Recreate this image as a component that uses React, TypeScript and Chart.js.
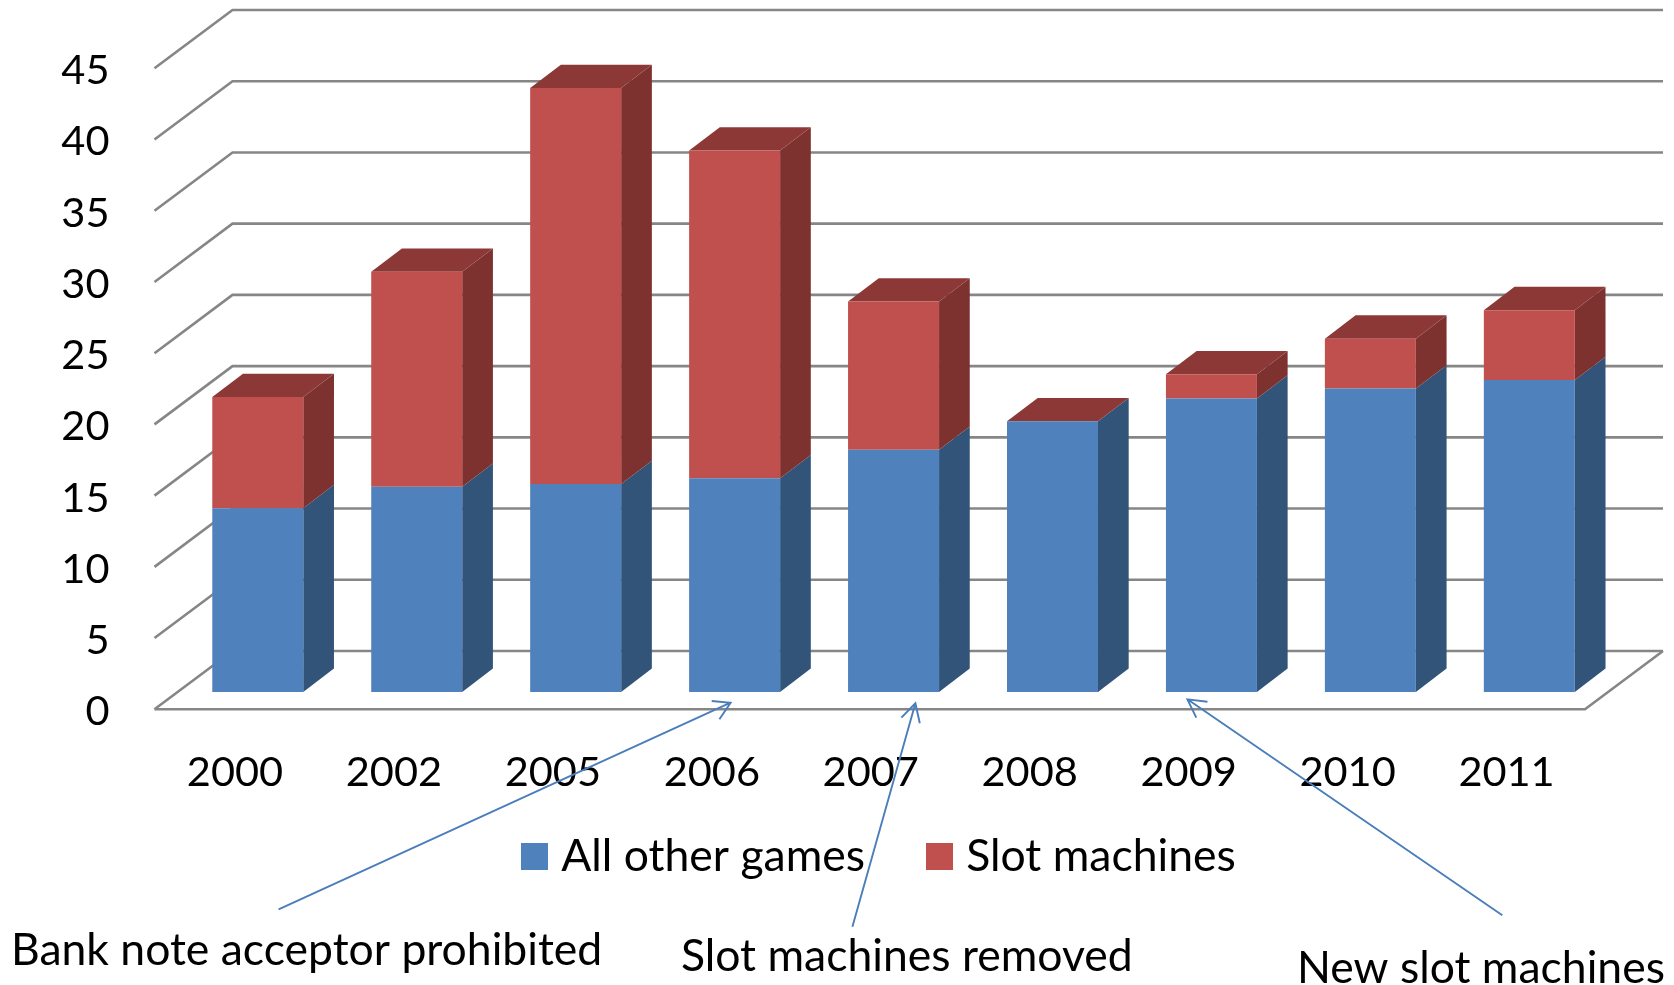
import React, { useEffect, useRef } from "react";
import { Chart, registerables } from "chart.js";

Chart.register(...registerables);

const years = ["2000", "2002", "2005", "2006", "2007", "2008", "2009", "2010", "2011"];
const otherGames = [12.9, 14.4, 14.6, 15.0, 17.0, 19.0, 20.6, 21.3, 21.9];
const slotMachines = [7.8, 15.1, 27.8, 23.0, 10.4, 0, 1.7, 3.5, 4.9];
const seriesNames = ["All other games", "Slot machines"];
const noteTexts = ["Bank note acceptor prohibited", "Slot machines removed", "New slot machines"];

const FONT = "Lato";
const TICK_SIZE = 41.5;
const TEXT_SIZE = 44.5;
const FRONT_FILL = ["#4F81BD", "#C0504D"];
const SIDE_FILL = ["#335479", "#7D3230"];
const TOP_FILL = "#8C3836";
const GRID = "#868686";
const ARROW = "#4A7EBB";

const plotLeft = 154.5;
const plotRight = 1585;
const plotTop = 68.3;
const plotBottom = 709.3;
const wallDx = 78;
const wallDy = 58.3;
const barShiftX = 23.8;
const barShiftY = 17.4;
const barDepthX = 30.7;
const barDepthY = 23.3;

const notes = [
  { x: 11, y: 965 },
  { x: 681, y: 970.8 },
  { x: 1297, y: 982.7 },
];
const arrows = [
  { from: [278.6, 909.3], tip: [730.6, 702.7], a: [711.7, 701], b: [719.4, 719.3] },
  { from: [852.4, 926.7], tip: [915.4, 703.3], a: [901.4, 717.7], b: [919.8, 723.3] },
  { from: [1502.3, 915.3], tip: [1187.4, 699.3], a: [1207.5, 701.7], b: [1196.3, 717.7] },
];

const poly = (ctx: CanvasRenderingContext2D, pts: number[][], fill: string) => {
  ctx.beginPath();
  pts.forEach((p, i) => (i ? ctx.lineTo(p[0], p[1]) : ctx.moveTo(p[0], p[1])));
  ctx.closePath();
  ctx.fillStyle = fill;
  ctx.fill();
};

const perspective = {
  id: "perspective",
  afterLayout(chart: any) {
    const lg = chart.legend;
    if (!lg) return;
    const p = lg.options.labels.padding;
    const w = lg.width;
    lg.left = 530 - p;
    lg.right = lg.left + w;
    lg.top = 834.25 - p;
    lg.bottom = lg.top + lg.height;
  },
  beforeDatasetsDraw(chart: any) {
    const { ctx, scales } = chart;
    const backLeft = plotLeft + wallDx;
    const backRight = plotRight + wallDx;
    ctx.save();
    ctx.strokeStyle = GRID;
    ctx.lineWidth = 2.6;
    scales.y.ticks.forEach((t: any) => {
      const y = scales.y.getPixelForValue(t.value);
      ctx.beginPath();
      ctx.moveTo(plotLeft, y);
      ctx.lineTo(backLeft, y - wallDy);
      ctx.lineTo(backRight, y - wallDy);
      ctx.stroke();
    });
    ctx.beginPath();
    ctx.moveTo(plotLeft, plotBottom);
    ctx.lineTo(plotRight, plotBottom);
    ctx.lineTo(backRight, plotBottom - wallDy);
    ctx.stroke();
    ctx.restore();

    ctx.save();
    ctx.translate(barShiftX, -barShiftY);
    chart.data.datasets.forEach((_: any, d: number) => {
      chart.getDatasetMeta(d).data.forEach((bar: any) => {
        const r = bar.x + bar.width / 2;
        const l = bar.x - bar.width / 2;
        poly(ctx, [[r, bar.y], [r + barDepthX, bar.y - barDepthY], [r + barDepthX, bar.base - barDepthY], [r, bar.base]], SIDE_FILL[d]);
        if (d === chart.data.datasets.length - 1) {
          poly(ctx, [[l, bar.y], [l + barDepthX, bar.y - barDepthY], [r + barDepthX, bar.y - barDepthY], [r, bar.y]], TOP_FILL);
        }
      });
    });
  },
  afterDatasetsDraw(chart: any) {
    chart.ctx.restore();
  },
  afterDraw(chart: any) {
    const { ctx } = chart;
    ctx.save();
    ctx.fillStyle = "#000";
    ctx.font = `${TEXT_SIZE}px ${FONT}`;
    ctx.textAlign = "left";
    ctx.textBaseline = "alphabetic";
    noteTexts.forEach((t, i) => ctx.fillText(t, notes[i].x, notes[i].y));
    ctx.strokeStyle = ARROW;
    ctx.lineWidth = 1.9;
    arrows.forEach((a) => {
      ctx.beginPath();
      ctx.moveTo(a.from[0], a.from[1]);
      ctx.lineTo(a.tip[0], a.tip[1]);
      ctx.moveTo(a.a[0], a.a[1]);
      ctx.lineTo(a.tip[0], a.tip[1]);
      ctx.lineTo(a.b[0], a.b[1]);
      ctx.stroke();
    });
    ctx.restore();
  },
};

export default function App() {
  const ref = useRef<HTMLCanvasElement>(null);
  useEffect(() => {
    const chart = new Chart(ref.current!, {
      type: "bar",
      plugins: [perspective],
      data: {
        labels: years,
        datasets: [
          { label: seriesNames[0], data: otherGames, backgroundColor: FRONT_FILL[0], clip: false },
          { label: seriesNames[1], data: slotMachines, backgroundColor: FRONT_FILL[1], clip: false },
        ],
      },
      options: {
        responsive: false,
        animation: false,
        events: [],
        layout: { padding: { top: plotTop, right: 1674 - plotRight, left: 0, bottom: 0 } },
        datasets: { bar: { categoryPercentage: 1, barPercentage: 0.5725 } },
        scales: {
          x: {
            stacked: true,
            grid: { display: false, drawTicks: false },
            border: { display: false },
            ticks: { padding: 38.5, labelOffset: 1, maxRotation: 0, autoSkip: false, color: "#000", font: { family: FONT, size: TICK_SIZE } },
            afterFit(scale: any) {
              const lh = scale.chart.legend ? scale.chart.legend.height || 0 : 0;
              scale.height = 985 - plotBottom - lh;
            },
          },
          y: {
            stacked: true,
            min: 0,
            max: 45,
            grid: { display: false, drawTicks: false },
            border: { display: false },
            ticks: { stepSize: 5, padding: 45, labelOffset: 2.5, color: "#000", font: { family: FONT, size: TICK_SIZE } },
            afterFit(scale: any) {
              scale.width = plotLeft;
              scale.paddingTop = 0;
              scale.paddingBottom = 0;
            },
          },
        },
        plugins: {
          tooltip: { enabled: false },
          legend: {
            position: "bottom",
            align: "start",
            labels: {
              boxWidth: 9,
              boxHeight: 9,
              padding: 70,
              color: "#000",
              font: { family: FONT, size: TEXT_SIZE, lineHeight: 1.27 },
              generateLabels: () =>
                seriesNames.map((text, i) => ({
                  text,
                  fillStyle: FRONT_FILL[i],
                  strokeStyle: FRONT_FILL[i],
                  lineWidth: 18,
                  datasetIndex: i,
                })),
            },
          },
        },
      } as any,
    });
    chart.update();
    return () => chart.destroy();
  }, []);
  return (
    <canvas
      ref={ref}
      width={1674}
      height={985}
      style={{ position: "fixed", left: 0, top: 0, width: 1674, height: 985 }}
    />
  );
}
